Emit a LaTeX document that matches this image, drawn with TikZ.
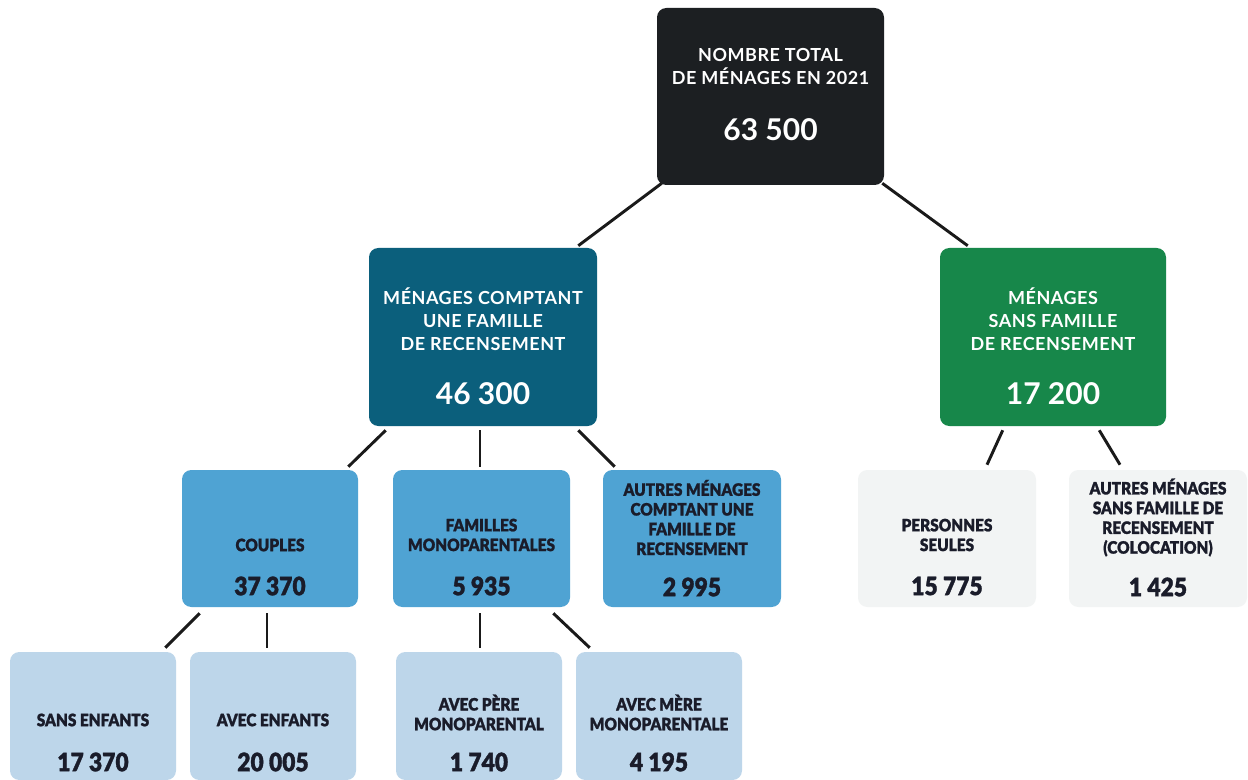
\documentclass[tikz,border=0pt]{standalone}
\usepackage{fontspec}
\setmainfont{Lato}
\newfontfamily\titlefont[LetterSpace=3]{Lato Bold}
\newfontfamily\heavyfont[FakeStretch=0.9, FakeBold=1.2]{Lato Black}
\usetikzlibrary{calc}
\definecolor{dk}{HTML}{1C1F22}
\definecolor{teal}{HTML}{0B5F7C}
\definecolor{grn}{HTML}{17874A}
\definecolor{midblue}{HTML}{4FA3D3}
\definecolor{paleblue}{HTML}{BDD6EA}
\definecolor{palegray}{HTML}{F2F4F4}
\definecolor{ink}{HTML}{1A1C2A}
\definecolor{conn}{HTML}{1A1A1A}
\begin{document}
\begin{tikzpicture}[x=0.75pt,y=-0.75pt,
  box/.style 2 args={rounded corners=7pt, inner sep=0pt, minimum width=#1*0.75pt, minimum height=#2*0.75pt},
  bigtitle/.style={text=white, font=\titlefont\fontsize{13.5}{17.25}\selectfont, align=center, inner sep=0pt},
  bignum/.style={text=white, font=\bfseries\fontsize{22.5}{26}\selectfont, inner sep=0pt},
  smalltitle/.style={text=ink, font=\heavyfont\fontsize{12.8}{14.8}\selectfont, align=center, inner sep=0pt},
  smallnum/.style={text=ink, font=\heavyfont\fontsize{19}{22}\selectfont, inner sep=0pt},
  link/.style={draw=conn, line width=2.2pt}]
\useasboundingbox (0,0) rectangle (1248,780);
\fill[white] (0,0) rectangle (1248,780);

% level 0
\node[box={227}{177}, fill=dk] (top) at (770.5,96.5) {};
\node[bigtitle] (ttop) at (770.5,66.5) {NOMBRE TOTAL\\DE MÉNAGES EN 2021};
\node[bignum] (ntop) at (770.5,130) {63 500};

% level 1
\node[box={228}{178}, fill=teal] (fam) at (483,337) {};
\node[bigtitle] (tfam) at (483,319) {MÉNAGES COMPTANT\\UNE FAMILLE\\DE RECENSEMENT};
\node[bignum] (nfam) at (483,394) {46 300};

\node[box={226}{178}, fill=grn] (nofam) at (1053,337) {};
\node[bigtitle] (tnofam) at (1053,319) {MÉNAGES\\SANS FAMILLE\\DE RECENSEMENT};
\node[bignum] (nnofam) at (1053,394) {17 200};

% level 2
\node[box={176}{137}, fill=midblue] (coup) at (270,538.5) {};
\node[smalltitle] (tcoup) at (270,545) {COUPLES};
\node[smallnum] (ncoup) at (270,586) {37 370};

\node[box={177}{137}, fill=midblue] (mono) at (481.5,538.5) {};
\node[smalltitle] (tmono) at (481.5,535) {FAMILLES\\MONOPARENTALES};
\node[smallnum] (nmono) at (481.5,586) {5 935};

\node[box={178}{137}, fill=midblue] (autres) at (692,538.5) {};
\node[smalltitle] (tautres) at (692,517.5) {AUTRES MÉNAGES\\COMPTANT UNE\\FAMILLE DE\\RECENSEMENT};
\node[smallnum] (nautres) at (692,587) {2 995};

\node[box={178}{137}, fill=palegray] (seul) at (947,538.5) {};
\node[smalltitle] (tseul) at (947,535) {PERSONNES\\SEULES};
\node[smallnum] (nseul) at (947,586) {15 775};

\node[box={178}{137}, fill=palegray] (coloc) at (1158,538.5) {};
\node[smalltitle] (tcoloc) at (1158,517.5) {AUTRES MÉNAGES\\SANS FAMILLE DE\\RECENSEMENT\\(COLOCATION)};
\node[smallnum] (ncoloc) at (1158,587) {1 425};

% level 3
\node[box={166}{128}, fill=paleblue] (sans) at (93,716) {};
\node[smalltitle] (tsans) at (93,720) {SANS ENFANTS};
\node[smallnum] (nsans) at (93,762) {17 370};

\node[box={166}{128}, fill=paleblue] (avec) at (273,716) {};
\node[smalltitle] (tavec) at (273,720) {AVEC ENFANTS};
\node[smallnum] (navec) at (273,762) {20 005};

\node[box={166}{128}, fill=paleblue] (pere) at (479,716) {};
\node[smalltitle] (tpere) at (479,712.5) {AVEC PÈRE\\MONOPARENTAL};
\node[smallnum] (npere) at (479,762) {1 740};

\node[box={166}{128}, fill=paleblue] (mere) at (659,716) {};
\node[smalltitle] (tmere) at (659,712.5) {AVEC MÈRE\\MONOPARENTALE};
\node[smallnum] (nmere) at (659,762) {4 195};

% connectors
\draw[link] ($(top.south west)+(5,-2)$) -- ($(fam.north east)+(-19,-2)$);
\draw[link] ($(top.south east)+(-2,-2)$) -- ($(nofam.north west)+(28,-2)$);
\draw[link] ($(fam.south west)+(17,4)$) -- ($(coup.north east)+(-10,-3)$);
\draw[link] ($(fam.south)+(-3,4)$) -- ($(mono.north)+(-1.5,-3)$);
\draw[link] ($(fam.south east)+(-19,4)$) -- ($(autres.north west)+(12,-3)$);
\draw[link] ($(nofam.south west)+(63,4)$) -- ($(seul.north)+(40,-5)$);
\draw[link] ($(nofam.south east)+(-67,4)$) -- ($(coloc.north)+(-38,-5)$);
\draw[link] ($(coup.south west)+(18,6)$) -- ($(sans.north east)+(-11,-4)$);
\draw[link] ($(coup.south)+(-3,6)$) -- ($(avec.north)+(-6,-4)$);
\draw[link] ($(mono.south)+(-1.5,6)$) -- ($(pere.north)+(1,-4)$);
\draw[link] ($(mono.south east)+(-17,6)$) -- ($(mere.north west)+(14,-4)$);
\end{tikzpicture}
\end{document}
